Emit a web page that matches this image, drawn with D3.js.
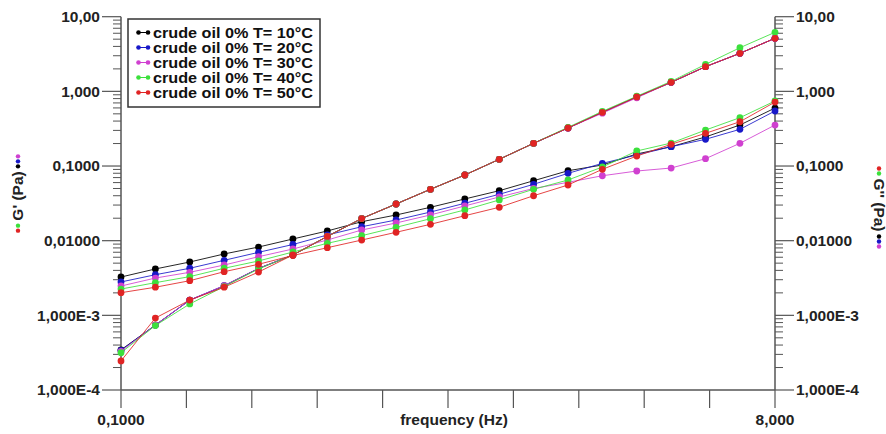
<!DOCTYPE html>
<html>
<head>
<meta charset="utf-8">
<script src="https://cdn.jsdelivr.net/npm/d3@7"></script>
<style>
  body { margin: 0; background: #fff; }
  svg { display: block; font-family: "Liberation Sans", Arial, sans-serif; }
</style>
</head>
<body>
<svg id="chart"></svg>
<script>
// frequencies (Hz), 20 points per sweep
const freq = [0.1, 0.1259, 0.1585, 0.1996, 0.2513, 0.3164, 0.3984, 0.5016, 0.6316, 0.7952,
  1.001, 1.261, 1.587, 1.999, 2.516, 3.168, 3.989, 5.022, 6.324, 8.0];

const temps = ["10", "20", "30", "40", "50"];
const colors = ["#000000", "#1818c8", "#d040d0", "#3ce03c", "#e02424"];

// G' (Pa)
const gp10 = [3.45e-4, 7.4e-4, 1.6e-3, 2.47e-3, 4.25e-3, 6.43e-3, 0.0114, 0.0198, 0.031, 0.0488,
  0.0758, 0.123, 0.2015, 0.323, 0.524, 0.841, 1.32, 2.14, 3.23, 5.14];
const gp20 = [3.4e-4, 7.4e-4, 1.6e-3, 2.5e-3, 4.25e-3, 6.43e-3, 0.0114, 0.0198, 0.031, 0.0488,
  0.0758, 0.123, 0.2015, 0.323, 0.524, 0.841, 1.32, 2.14, 3.23, 5.14];
const gp30 = [3.3e-4, 7.4e-4, 1.6e-3, 2.5e-3, 4.25e-3, 6.43e-3, 0.0114, 0.0198, 0.031, 0.0488,
  0.0758, 0.123, 0.2015, 0.323, 0.51, 0.82, 1.32, 2.14, 3.23, 5.14];
const gp40 = [3.16e-4, 7.3e-4, 1.42e-3, 2.43e-3, 4.18e-3, 6.43e-3, 0.0114, 0.0198, 0.031, 0.0488,
  0.0758, 0.123, 0.2015, 0.33, 0.54, 0.86, 1.36, 2.3, 3.84, 6.18];
const gp50 = [2.45e-4, 9.2e-4, 1.6e-3, 2.38e-3, 3.8e-3, 6.43e-3, 0.0114, 0.0198, 0.031, 0.0488,
  0.0758, 0.123, 0.2015, 0.323, 0.524, 0.841, 1.32, 2.14, 3.23, 5.14];

// G'' (Pa)
const gpp10 = [3.26e-3, 4.18e-3, 5.18e-3, 6.64e-3, 8.22e-3, 0.01054, 0.01349, 0.01795, 0.02208, 0.028,
  0.0362, 0.0467, 0.0635, 0.0865, 0.1032, 0.145, 0.1815, 0.245, 0.354, 0.598];
const gpp20 = [2.8e-3, 3.5e-3, 4.27e-3, 5.46e-3, 6.98e-3, 8.89e-3, 0.01192, 0.01538, 0.01892, 0.0242,
  0.0317, 0.0418, 0.0569, 0.0798, 0.1086, 0.1406, 0.1815, 0.228, 0.31, 0.546];
const gpp30 = [2.47e-3, 3.16e-3, 3.77e-3, 4.72e-3, 6.1e-3, 7.74e-3, 0.0102, 0.0139, 0.01726, 0.0221,
  0.0292, 0.0385, 0.05, 0.0605, 0.0741, 0.0857, 0.094, 0.1253, 0.2015, 0.354];
const gpp40 = [2.25e-3, 2.74e-3, 3.3e-3, 4.27e-3, 5.35e-3, 7.05e-3, 9.22e-3, 0.01167, 0.0151, 0.01968,
  0.0258, 0.0351, 0.0488, 0.065, 0.097, 0.159, 0.203, 0.303, 0.444, 0.743];
const gpp50 = [2.01e-3, 2.38e-3, 2.91e-3, 3.84e-3, 4.83e-3, 6.33e-3, 8.05e-3, 0.0102, 0.01295, 0.01657,
  0.0216, 0.028, 0.04, 0.0557, 0.0904, 0.136, 0.1954, 0.274, 0.392, 0.719];

const gPrime = [gp10, gp20, gp30, gp40, gp50];
const gDouble = [gpp10, gpp20, gpp30, gpp40, gpp50];

const yTicks = [10, 1, 0.1, 0.01, 0.001, 0.0001];
const yTickLabels = ["10,00", "1,000", "0,1000", "0,01000", "1,000E-3", "1,000E-4"];
const xTickLabels = { first: "0,1000", last: "8,000" };

const width = 886, height = 434;
const margin = { left: 121, right: 111, top: 16.7, bottom: 44 };
const innerWidth = width - margin.left - margin.right;
const innerHeight = height - margin.top - margin.bottom;
const axisColor = "#555";
const labelSize = "15.5px";

const svg = d3.select("#chart").attr("width", width).attr("height", height);
const g = svg.append("g").attr("transform", `translate(${margin.left},${margin.top})`);

const x = d3.scaleLog().domain([0.1, 8]).range([0, innerWidth]);
const y = d3.scaleLog().domain([1e-4, 10]).range([innerHeight, 0]);

// minor ticks 2..9 per decade
const minor = [];
for (let e = -4; e < 1; e++) for (let m = 2; m <= 9; m++) minor.push(m * Math.pow(10, e));

function drawYAxis(xPos, dir) {
  const ax = g.append("g").attr("transform", `translate(${xPos},0)`);
  ax.append("line").attr("y1", 0).attr("y2", innerHeight).attr("stroke", axisColor).attr("stroke-width", 1.5);
  ax.selectAll(".minor").data(minor).enter().append("line")
    .attr("x1", 0).attr("x2", dir * 8)
    .attr("y1", d => y(d)).attr("y2", d => y(d))
    .attr("stroke", axisColor).attr("stroke-width", 1);
  ax.selectAll(".major").data(yTicks).enter().append("line")
    .attr("x1", 0).attr("x2", dir * 19)
    .attr("y1", d => y(d)).attr("y2", d => y(d))
    .attr("stroke", axisColor).attr("stroke-width", 1.2);
  ax.selectAll("text").data(yTicks).enter().append("text")
    .attr("x", dir * 21)
    .attr("y", d => y(d))
    .attr("dy", "0.35em")
    .attr("text-anchor", dir < 0 ? "end" : "start")
    .style("font-size", labelSize).style("font-weight", "bold").attr("fill", "#222")
    .text((d, i) => yTickLabels[i]);
}
drawYAxis(0, -1);
drawYAxis(innerWidth, 1);

// x axis
const xTickVals = d3.range(11).map(i => 0.1 * Math.pow(80, i / 10));
const xa = g.append("g").attr("transform", `translate(0,${innerHeight})`);
xa.append("line").attr("x1", 0).attr("x2", innerWidth).attr("stroke", axisColor).attr("stroke-width", 1.5);
xa.selectAll("line.t").data(xTickVals).enter().append("line")
  .attr("x1", d => x(d)).attr("x2", d => x(d))
  .attr("y1", 0).attr("y2", 18)
  .attr("stroke", axisColor).attr("stroke-width", 1.2);
xa.append("text").attr("x", x(0.1)).attr("y", 35).attr("text-anchor", "middle")
  .style("font-size", labelSize).style("font-weight", "bold").attr("fill", "#222").text(xTickLabels.first);
xa.append("text").attr("x", x(8)).attr("y", 35).attr("text-anchor", "middle")
  .style("font-size", labelSize).style("font-weight", "bold").attr("fill", "#222").text(xTickLabels.last);
xa.append("text").attr("x", innerWidth / 2 + 6).attr("y", 35).attr("text-anchor", "middle")
  .style("font-size", labelSize).style("font-weight", "bold").attr("fill", "#222").text("frequency (Hz)");

// series
const line = d3.line().x((d, i) => x(freq[i])).y(d => y(d));
function drawSeries(vals, color) {
  g.append("path").datum(vals)
    .attr("fill", "none").attr("stroke", color).attr("stroke-width", 1).attr("opacity", 0.85)
    .attr("d", line);
  g.append("g").selectAll("circle").data(vals).enter().append("circle")
    .attr("cx", (d, i) => x(freq[i]))
    .attr("cy", d => y(d))
    .attr("r", 3.4)
    .attr("fill", color);
}
temps.forEach((t, k) => {
  drawSeries(gDouble[k], colors[k]);
  drawSeries(gPrime[k], colors[k]);
});

// legend
const leg = svg.append("g").attr("transform", "translate(128,19)");
leg.append("rect").attr("width", 192).attr("height", 88)
  .attr("fill", "#fff").attr("stroke", "#333").attr("stroke-width", 1.5);
temps.forEach((t, k) => {
  const yy = 13.5 + k * 15;
  leg.append("line").attr("x1", 10).attr("x2", 21).attr("y1", yy).attr("y2", yy)
    .attr("stroke", colors[k]).attr("stroke-width", 1);
  [10.5, 20].forEach(cx => leg.append("circle").attr("cx", cx).attr("cy", yy).attr("r", 2.3).attr("fill", colors[k]));
  leg.append("text").attr("x", 25).attr("y", yy).attr("dy", "0.36em")
    .style("font-size", "14px").style("font-weight", "bold").attr("fill", "#111")
    .attr("textLength", 160).attr("lengthAdjust", "spacingAndGlyphs")
    .text(`crude oil 0% T= ${t}°C`);
});

// rotated axis titles with coloured dots
function axisTitle(cx, cy, rot, label, before, after) {
  const t = svg.append("g").attr("transform", `translate(${cx},${cy}) rotate(${rot})`);
  const txt = t.append("text").attr("text-anchor", "middle").attr("dy", "0.35em")
    .style("font-size", labelSize).style("font-weight", "bold").attr("fill", "#222").text(label);
  const w = txt.node().getComputedTextLength();
  before.forEach((c, i) => t.append("circle").attr("cx", -w / 2 - 5 - i * 5).attr("cy", 0).attr("r", 2.2).attr("fill", c));
  after.forEach((c, i) => t.append("circle").attr("cx", w / 2 + 5 + i * 5).attr("cy", 0).attr("r", 2.2).attr("fill", c));
}
axisTitle(18, 196, -90, "G' (Pa)", [colors[3], colors[4]], [colors[0], colors[1], colors[2]]);
axisTitle(879, 205, 90, "G'' (Pa)", [colors[3], colors[4]], [colors[0], colors[1], colors[2]]);
</script>
</body>
</html>
